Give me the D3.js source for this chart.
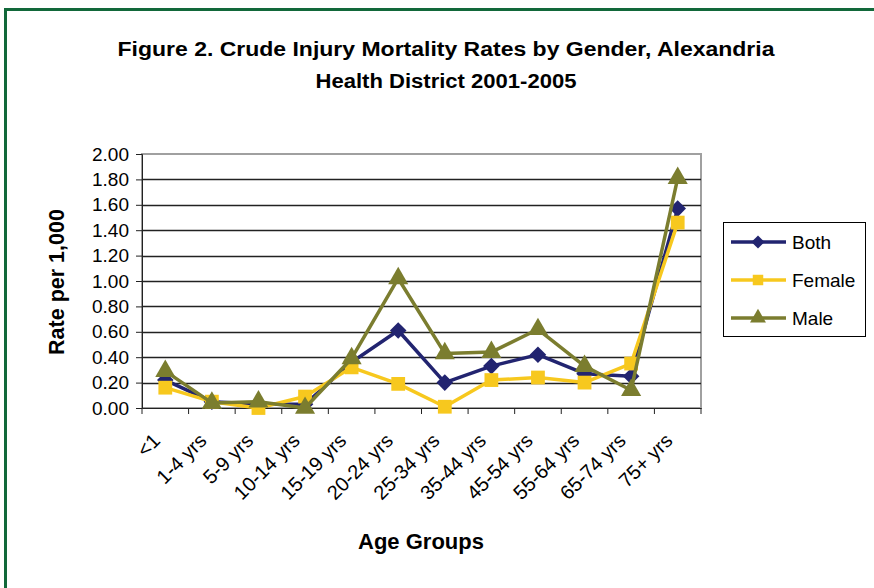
<!DOCTYPE html>
<html>
<head>
<meta charset="utf-8">
<script src="https://cdn.jsdelivr.net/npm/d3@7"></script>
<style>
  body { margin: 0; background: #fff; }
  svg { display: block; font-family: "Liberation Sans", Arial, sans-serif; }
</style>
</head>
<body>
<script>
const ageGroups = ["<1", "1-4 yrs", "5-9 yrs", "10-14 yrs", "15-19 yrs", "20-24 yrs",
  "25-34 yrs", "35-44 yrs", "45-54 yrs", "55-64 yrs", "65-74 yrs", "75+ yrs"];
const both   = [0.22, 0.05, 0.03, 0.03, 0.36, 0.61, 0.20, 0.33, 0.42, 0.27, 0.25, 1.57];
const female = [0.16, 0.05, 0.00, 0.09, 0.32, 0.19, 0.01, 0.22, 0.24, 0.20, 0.35, 1.46];
const male   = [0.29, 0.04, 0.05, 0.00, 0.39, 1.02, 0.43, 0.44, 0.62, 0.33, 0.14, 1.81];
const yTicks = [0, 0.2, 0.4, 0.6, 0.8, 1.0, 1.2, 1.4, 1.6, 1.8, 2.0];

const series = [
  { name: "Both", values: both, color: "#222470", shape: d3.symbolDiamond2, size: 175 },
  { name: "Female", values: female, color: "#f7c81e", shape: d3.symbolSquare, size: 190 },
  { name: "Male", values: male, color: "#7b7d2f", shape: d3.symbolTriangle, size: 175 }
];

const W = 874, H = 588;
const plot = { left: 142, right: 701, top: 154, bottom: 408 };

const svg = d3.select("body").append("svg")
  .attr("width", W)
  .attr("height", H);

// green frame
svg.append("path")
  .attr("d", `M5.5,${H + 5} L5.5,9.5 L${W + 5},9.5`)
  .attr("fill", "none")
  .attr("stroke", "#12683a")
  .attr("stroke-width", 3);

const x = d3.scaleBand().domain(ageGroups).range([plot.left, plot.right]);
const y = d3.scaleLinear().domain([0, 2]).range([plot.bottom, plot.top]);
const cx = d => x(d) + x.bandwidth() / 2;

// plot border (gray)
svg.append("rect")
  .attr("x", plot.left)
  .attr("y", plot.top)
  .attr("width", plot.right - plot.left)
  .attr("height", plot.bottom - plot.top)
  .attr("fill", "none")
  .attr("stroke", "#a0a0a0")
  .attr("stroke-width", 2);

// gridlines
svg.append("g")
  .selectAll("line")
  .data(yTicks.slice(1, -1))
  .join("line")
  .attr("x1", plot.left)
  .attr("x2", plot.right)
  .attr("y1", d => Math.round(y(d)) + 0.5)
  .attr("y2", d => Math.round(y(d)) + 0.5)
  .attr("stroke", "#222")
  .attr("stroke-width", 1.3);

// y axis
const yAxis = svg.append("g")
  .attr("transform", `translate(${plot.left},0)`)
  .call(d3.axisLeft(y).tickValues(yTicks).tickFormat(d3.format(".2f")).tickSize(6).tickPadding(7));
yAxis.select(".domain").attr("stroke", "#222");
yAxis.selectAll(".tick line").attr("stroke", "#222");
yAxis.selectAll("text")
  .attr("font-size", 19)
  .attr("fill", "#000")
  .style("font-family", "Liberation Sans, Arial, sans-serif");

// x axis
const xAxis = svg.append("g")
  .attr("transform", `translate(0,${plot.bottom})`)
  .call(d3.axisBottom(x).tickSize(0).tickFormat(""));
xAxis.select(".domain").attr("stroke", "#222");
xAxis.selectAll(".tick").remove();

const xTickPos = ageGroups.map(d => x(d)).concat([plot.right]);
svg.append("g")
  .selectAll("line")
  .data(xTickPos)
  .join("line")
  .attr("x1", d => d)
  .attr("x2", d => d)
  .attr("y1", plot.bottom)
  .attr("y2", plot.bottom + 6)
  .attr("stroke", "#222");

svg.append("g")
  .selectAll("text")
  .data(ageGroups)
  .join("text")
  .attr("transform", d => `translate(${cx(d) - 4},${plot.bottom + 34}) rotate(-45)`)
  .attr("text-anchor", "end")
  .attr("font-size", 20)
  .attr("fill", "#000")
  .text(d => d);

// lines and markers
const line = d3.line()
  .x((d, i) => cx(ageGroups[i]))
  .y(d => y(d));

series.forEach(s => {
  const g = svg.append("g");
  g.append("path")
    .attr("d", line(s.values))
    .attr("fill", "none")
    .attr("stroke", s.color)
    .attr("stroke-width", 3.5)
    .attr("stroke-linejoin", "round");
  g.selectAll("path.m")
    .data(s.values)
    .join("path")
    .attr("class", "m")
    .attr("transform", (d, i) => `translate(${cx(ageGroups[i])},${y(d)})`)
    .attr("d", d3.symbol().type(s.shape).size(s.size))
    .attr("fill", s.color);
});

// title
svg.append("text")
  .attr("x", 446)
  .attr("y", 56)
  .attr("text-anchor", "middle")
  .attr("font-size", 20)
  .attr("font-weight", "bold")
  .attr("textLength", 657)
  .attr("lengthAdjust", "spacingAndGlyphs")
  .text("Figure 2. Crude Injury Mortality Rates by Gender, Alexandria");
svg.append("text")
  .attr("x", 446)
  .attr("y", 88)
  .attr("text-anchor", "middle")
  .attr("font-size", 20)
  .attr("font-weight", "bold")
  .attr("textLength", 261)
  .attr("lengthAdjust", "spacingAndGlyphs")
  .text("Health District 2001-2005");

// axis titles
svg.append("text")
  .attr("x", 421)
  .attr("y", 549)
  .attr("text-anchor", "middle")
  .attr("font-size", 22)
  .attr("font-weight", "bold")
  .text("Age Groups");
svg.append("text")
  .attr("transform", `translate(64,282) rotate(-90)`)
  .attr("text-anchor", "middle")
  .attr("font-size", 21.5)
  .attr("font-weight", "bold")
  .text("Rate per 1,000");

// legend
const legend = svg.append("g");
legend.append("rect")
  .attr("x", 723.5)
  .attr("y", 222.5)
  .attr("width", 142)
  .attr("height", 114)
  .attr("fill", "#fff")
  .attr("stroke", "#000")
  .attr("stroke-width", 1);
series.forEach((s, i) => {
  const ly = 242 + i * 38;
  legend.append("line")
    .attr("x1", 731).attr("x2", 786)
    .attr("y1", ly).attr("y2", ly)
    .attr("stroke", s.color).attr("stroke-width", 3.5);
  legend.append("path")
    .attr("transform", `translate(758,${ly})`)
    .attr("d", d3.symbol().type(s.shape).size(110))
    .attr("fill", s.color);
  legend.append("text")
    .attr("x", 792)
    .attr("y", ly + 7)
    .attr("font-size", 19)
    .text(s.name);
});
</script>
</body>
</html>
